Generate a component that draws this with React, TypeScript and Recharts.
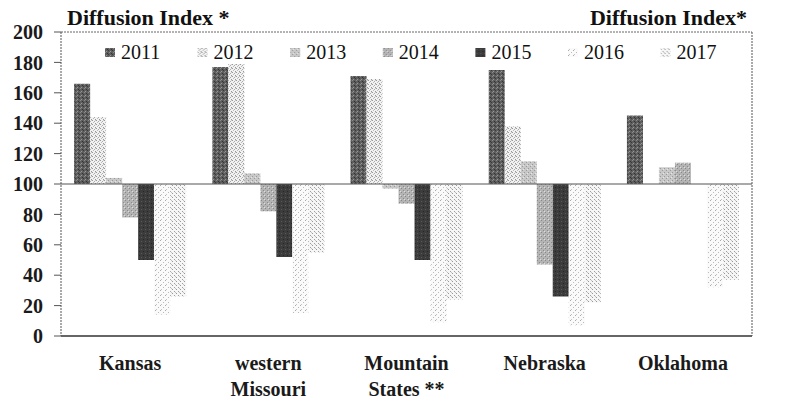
import React from "react";
import { BarChart, Bar, XAxis, YAxis, ReferenceLine } from "recharts";

const categories = ["Kansas", "western\nMissouri", "Mountain\nStates **", "Nebraska", "Oklahoma"];
const years = ["2011", "2012", "2013", "2014", "2015", "2016", "2017"];

const v2011 = [166, 177, 171, 175, 145];
const v2012 = [144, 179, 169, 138, null];
const v2013 = [104, 107, 97, 115, 111];
const v2014 = [78, 82, 87, 47, 114];
const v2015 = [50, 52, 50, 26, null];
const v2016 = [14, 15, 9, 7, 32];
const v2017 = [26, 55, 24, 22, 37];

const yTicks = [0, 20, 40, 60, 80, 100, 120, 140, 160, 180, 200];
const BASE = 100;

const seriesValues = [v2011, v2012, v2013, v2014, v2015, v2016, v2017];

const data = categories.map((name, i) => {
  const row: any = { name };
  years.forEach((y, k) => {
    const v = seriesValues[k][i];
    row[y] = v == null ? null : [BASE, v];
  });
  return row;
});

const FONT = '"Liberation Serif", "DejaVu Serif", serif';

// stipple patterns, roughly imitating the scanned fills
const Patterns = () => (
  <defs>
    <pattern id="p2011" width="4" height="4" patternUnits="userSpaceOnUse">
      <rect width="4" height="4" fill="#5e5e5e" />
      <rect x="0" y="0" width="1" height="1" fill="#8a8a8a" />
      <rect x="2" y="1" width="1" height="1" fill="#333" />
      <rect x="1" y="3" width="1" height="1" fill="#999" />
      <rect x="3" y="2" width="1" height="1" fill="#3a3a3a" />
    </pattern>
    <pattern id="p2012" width="4" height="4" patternUnits="userSpaceOnUse">
      <rect width="4" height="4" fill="#f2f2f2" />
      <rect x="0" y="0" width="1" height="1" fill="#999" />
      <rect x="2" y="1" width="1" height="1" fill="#aaa" />
      <rect x="1" y="2" width="1" height="1" fill="#bbb" />
      <rect x="3" y="3" width="1" height="1" fill="#999" />
      <rect x="3" y="0" width="1" height="1" fill="#ccc" />
    </pattern>
    <pattern id="p2013" width="4" height="4" patternUnits="userSpaceOnUse">
      <rect width="4" height="4" fill="#c8c8c8" />
      <rect x="0" y="0" width="1" height="1" fill="#999" />
      <rect x="2" y="2" width="1" height="1" fill="#999" />
      <rect x="3" y="1" width="1" height="1" fill="#e6e6e6" />
    </pattern>
    <pattern id="p2014" width="4" height="4" patternUnits="userSpaceOnUse">
      <rect width="4" height="4" fill="#b4b4b4" />
      <rect x="1" y="0" width="1" height="1" fill="#888" />
      <rect x="3" y="2" width="1" height="1" fill="#8a8a8a" />
      <rect x="0" y="3" width="1" height="1" fill="#ddd" />
    </pattern>
    <pattern id="p2015" width="4" height="4" patternUnits="userSpaceOnUse">
      <rect width="4" height="4" fill="#3c3c3c" />
      <rect x="1" y="1" width="1" height="1" fill="#5a5a5a" />
      <rect x="3" y="3" width="1" height="1" fill="#262626" />
    </pattern>
    <pattern id="p2016" width="5" height="5" patternUnits="userSpaceOnUse">
      <rect width="5" height="5" fill="#fafafa" />
      <rect x="0" y="0" width="1" height="1" fill="#aaa" />
      <rect x="3" y="2" width="1" height="1" fill="#bbb" />
      <rect x="1" y="4" width="1" height="1" fill="#c4c4c4" />
    </pattern>
    <pattern id="p2017" width="4" height="4" patternUnits="userSpaceOnUse">
      <rect width="4" height="4" fill="#f6f6f6" />
      <rect x="0" y="1" width="1" height="1" fill="#999" />
      <rect x="2" y="3" width="1" height="1" fill="#a0a0a0" />
      <rect x="3" y="0" width="1" height="1" fill="#c0c0c0" />
    </pattern>
  </defs>
);

const CategoryTick = (props: any) => {
  const { x, y, payload } = props;
  const lines = String(payload.value).split("\n");
  return (
    <text x={x} y={y} textAnchor="middle" fontFamily={FONT} fontSize={20} fontWeight="bold" fill="#1a1a1a">
      {lines.map((l, i) => (
        <tspan key={i} x={x} dy={i === 0 ? 34 : 26}>
          {l}
        </tspan>
      ))}
    </text>
  );
};

const tickStyle = { fontFamily: FONT, fontSize: 20, fontWeight: "bold", fill: "#1a1a1a" } as any;

export default function App() {
  return (
    <div style={{ position: "absolute", left: 0, top: 0, width: 804, height: 403, background: "#fff" }}>
      <BarChart
        width={804}
        height={403}
        data={data}
        margin={{ top: 32, right: 0, bottom: 17, left: 0 }}
        barGap={0}
        barCategoryGap="9.5%"
      >
        <Patterns />
        <XAxis
          dataKey="name"
          tick={<CategoryTick />}
          tickLine={false}
          tickSize={0}
          tickMargin={0}
          height={50}
          axisLine={{ stroke: "#333", strokeWidth: 1.5 }}
          interval={0}
        />
        <YAxis
          yAxisId="left"
          orientation="left"
          width={61}
          domain={[0, 200]}
          ticks={yTicks}
          tick={tickStyle}
          tickSize={7}
          tickMargin={11}
          axisLine={{ stroke: "#555", strokeDasharray: "2 1" }}
          tickLine={{ stroke: "#555" }}
          interval={0}
        />
        <YAxis
          yAxisId="right"
          orientation="right"
          width={52}
          domain={[0, 200]}
          ticks={yTicks}
          tick={tickStyle}
          tickSize={5}
          tickMargin={14}
          axisLine={{ stroke: "#555", strokeDasharray: "2 1" }}
          tickLine={{ stroke: "#555" }}
          interval={0}
        />
        <ReferenceLine yAxisId="left" y={200} stroke="#666" strokeDasharray="2 1" />
        {years.map((y) => (
          <Bar key={y} yAxisId="left" dataKey={y} fill={`url(#p${y})`} isAnimationActive={false} />
        ))}
        <ReferenceLine yAxisId="left" y={BASE} stroke="#555" strokeWidth={1.2} />
      </BarChart>
      <svg width={804} height={70} style={{ position: "absolute", left: 0, top: 0, pointerEvents: "none" }}>
        <text x={67} y={25} fontFamily={FONT} fontSize={22} fontWeight="bold" fill="#111">
          Diffusion Index *
        </text>
        <text x={747} y={25} textAnchor="end" fontFamily={FONT} fontSize={22} fontWeight="bold" fill="#111">
          Diffusion Index*
        </text>
        {years.map((y, i) => (
          <g key={y} transform={`translate(${105 + i * 92.6}, 0)`}>
            <rect x={0} y={48} width={10} height={9} fill={`url(#p${y})`} />
            <text x={16} y={59} fontFamily={FONT} fontSize={20} fill="#111">
              {y}
            </text>
          </g>
        ))}
      </svg>
    </div>
  );
}
